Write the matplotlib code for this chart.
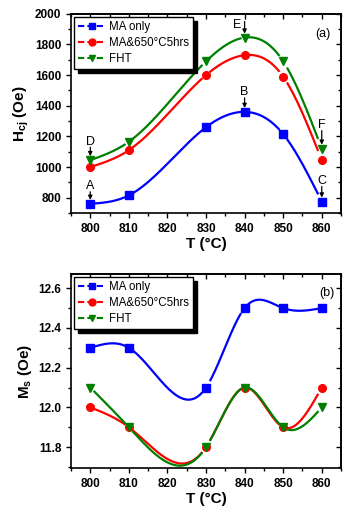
import numpy as np
import matplotlib
matplotlib.use('Agg')
import matplotlib.pyplot as plt
from matplotlib.lines import Line2D
from matplotlib.ticker import MultipleLocator

plt.rcParams['font.family'] = ['Liberation Sans', 'DejaVu Sans']

# data
temps = [800, 810, 830, 840, 850, 860]

hc_ma = [760, 815, 1260, 1360, 1215, 775]
hc_ma650 = [1000, 1110, 1600, 1730, 1590, 1045]
hc_fht = [1045, 1165, 1690, 1845, 1690, 1120]

ms_ma = [12.3, 12.3, 12.1, 12.5, 12.5, 12.5]
ms_ma650 = [12.0, 11.9, 11.8, 12.1, 11.9, 12.1]
ms_fht = [12.1, 11.9, 11.8, 12.1, 11.9, 12.0]

labels = ['MA only', 'MA&650°C5hrs', 'FHT']
colors = ['#0000ff', '#ff0000', '#008000']
markers = ['s', 'o', 'v']

# point letters: (label, series index, x)
letters = [('A', 0, 800), ('B', 0, 840), ('C', 0, 860),
           ('D', 2, 800), ('E', 2, 840), ('F', 2, 860)]
# placement in pixels above the symbol: text dx, text dy, arrow start
letter_pos = {'A': (0, 18, 12), 'B': (0, 20, 14), 'C': (0, 21, 15),
              'D': (0, 18, 13), 'E': (-7, 13, 16), 'F': (0, 24, 18)}


def natural_spline(x, y, n=400):
    # plain natural cubic spline through the points
    x = np.asarray(x, float)
    y = np.asarray(y, float)
    k = len(x)
    h = np.diff(x)
    A = np.zeros((k, k))
    r = np.zeros(k)
    A[0, 0] = 1
    A[-1, -1] = 1
    for i in range(1, k - 1):
        A[i, i - 1] = h[i - 1]
        A[i, i] = 2 * (h[i - 1] + h[i])
        A[i, i + 1] = h[i]
        r[i] = 6 * ((y[i + 1] - y[i]) / h[i] - (y[i] - y[i - 1]) / h[i - 1])
    M = np.linalg.solve(A, r)
    xs = np.linspace(x[0], x[-1], n)
    idx = np.clip(np.searchsorted(x, xs) - 1, 0, k - 2)
    x0, x1 = x[idx], x[idx + 1]
    hh = x1 - x0
    t0 = x1 - xs
    t1 = xs - x0
    ys = (M[idx] * t0 ** 3 / (6 * hh) + M[idx + 1] * t1 ** 3 / (6 * hh)
          + (y[idx] / hh - M[idx] * hh / 6) * t0
          + (y[idx + 1] / hh - M[idx + 1] * hh / 6) * t1)
    # leave a small gap round each symbol, like Origin does
    for xi in x:
        ys[np.abs(xs - xi) < 1.0] = np.nan
    return xs, ys


def style_axes(ax):
    ax.tick_params(which='both', direction='out', top=False, right=False,
                   labelsize=8.5, width=1)
    ax.tick_params(which='major', length=3.5)
    ax.tick_params(which='minor', length=2)
    ax2x = ax.secondary_xaxis('top')
    ax2x.tick_params(which='both', direction='in', labeltop=False, width=1)
    ax2x.tick_params(which='major', length=3.5)
    ax2x.tick_params(which='minor', length=2)
    ax2x.xaxis.set_major_locator(MultipleLocator(10))
    ax2x.xaxis.set_minor_locator(MultipleLocator(5))
    ax2y = ax.secondary_yaxis('right')
    ax2y.tick_params(which='both', direction='in', labelright=False, width=1)
    ax2y.tick_params(which='major', length=3.5)
    ax2y.tick_params(which='minor', length=2)
    for s in ax.spines.values():
        s.set_linewidth(1.2)
    for s in list(ax2x.spines.values()) + list(ax2y.spines.values()):
        s.set_linewidth(1.2)
    for lab in ax.get_xticklabels() + ax.get_yticklabels():
        lab.set_fontweight('bold')
    ax.set_xlim(795, 865)
    ax.xaxis.set_major_locator(MultipleLocator(10))
    ax.xaxis.set_minor_locator(MultipleLocator(5))
    ax.set_xlabel('T (°C)', fontsize=11, fontweight='bold', labelpad=2)
    return ax2y


def add_legend(ax):
    handles = [Line2D([], [], color=c, marker=m, ls=(0, (3, 1.5)), lw=1.5, ms=5)
               for c, m in zip(colors, markers)]
    ax.legend(handles, labels, loc='upper left', fontsize=8.3,
              frameon=True, fancybox=False, edgecolor='black', framealpha=1,
              shadow={'color': 'black', 'alpha': 1, 'ox': 3, 'oy': -3},
              handlelength=2.4, handletextpad=0.3, borderpad=0.35,
              labelspacing=0.35, borderaxespad=0.25)


fig = plt.figure(figsize=(3.48, 5.12), dpi=100)
ax1 = fig.add_axes([0.204, 0.584, 0.776, 0.389])
ax2 = fig.add_axes([0.204, 0.086, 0.776, 0.379])

# (a) coercivity
series_a = [hc_ma, hc_ma650, hc_fht]
for vals, c, m in zip(series_a, colors, markers):
    xs, ys = natural_spline(temps, vals)
    ax1.plot(xs, ys, color=c, lw=1.6)
    ax1.plot(temps, vals, ls='none', marker=m, color=c, ms=5.5)

for letter, si, x in letters:
    y = series_a[si][temps.index(x)]
    dx, dy, a0 = letter_pos[letter]
    ax1.annotate(letter, xy=(x, y), xytext=(dx, dy), textcoords='offset pixels',
                 ha='center', va='center', fontsize=9)
    ax1.annotate('', xy=(x, y), xytext=(0, a0), textcoords='offset pixels',
                 arrowprops=dict(arrowstyle='-|>', color='black', lw=0.9,
                                 mutation_scale=6, shrinkA=0, shrinkB=2.8))

ax1.set_ylim(700, 2000)
ax1.yaxis.set_major_locator(MultipleLocator(200))
ax1.yaxis.set_minor_locator(MultipleLocator(100))
r1 = style_axes(ax1)
r1.yaxis.set_major_locator(MultipleLocator(200))
r1.yaxis.set_minor_locator(MultipleLocator(100))
ax1.set_yticks([800, 1000, 1200, 1400, 1600, 1800, 2000])
for lab in ax1.get_yticklabels():
    lab.set_fontweight('bold')
ax1.set_ylabel('H$_{\\mathregular{cj}}$ (Oe)', fontsize=11, fontweight='bold', labelpad=3)
ax1.text(0.96, 0.9, '(a)', transform=ax1.transAxes, ha='right', va='center', fontsize=9)
add_legend(ax1)

# (b) magnetisation
series_b = [ms_ma, ms_ma650, ms_fht]
for vals, c, m in zip(series_b, colors, markers):
    xs, ys = natural_spline(temps, vals)
    ax2.plot(xs, ys, color=c, lw=1.6)
    ax2.plot(temps, vals, ls='none', marker=m, color=c, ms=5.5)

ax2.set_ylim(11.695, 12.672)
ax2.set_yticks([11.8, 12.0, 12.2, 12.4, 12.6])
ax2.set_yticklabels(['11.8', '12.0', '12.2', '12.4', '12.6'])
ax2.yaxis.set_minor_locator(MultipleLocator(0.1))
r2 = style_axes(ax2)
r2.yaxis.set_major_locator(MultipleLocator(0.2))
r2.yaxis.set_minor_locator(MultipleLocator(0.1))
for lab in ax2.get_yticklabels():
    lab.set_fontweight('bold')
ax2.set_ylabel('M$_{\\mathregular{s}}$ (Oe)', fontsize=11, fontweight='bold', labelpad=3)
ax2.text(0.975, 0.9, '(b)', transform=ax2.transAxes, ha='right', va='center', fontsize=9)
add_legend(ax2)

fig.savefig('out.png', dpi=100)
